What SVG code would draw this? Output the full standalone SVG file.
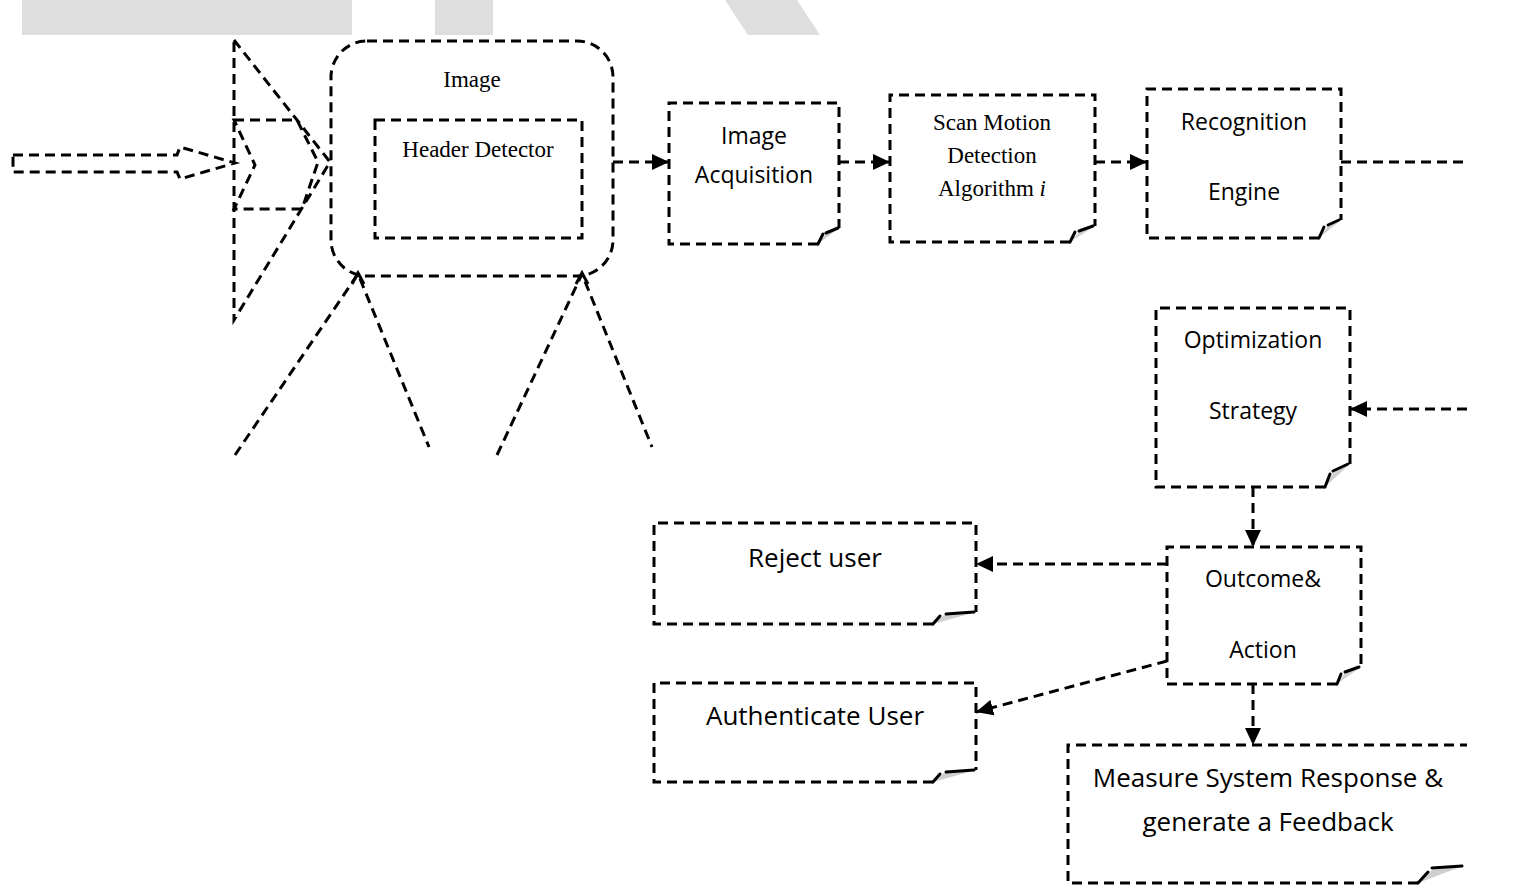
<svg xmlns="http://www.w3.org/2000/svg" width="1517" height="896" viewBox="0 0 1517 896">
<defs>
<style>
.d{fill:none;stroke:#000;stroke-width:3;stroke-dasharray:10 6}
.s{fill:none;stroke:#000;stroke-width:3}
.g{fill:#dedede;stroke:none}
.fold{fill:#cfcfcf;stroke:none}
.fs{fill:none;stroke:#000;stroke-width:3;stroke-linecap:round}
.ser{font-family:"Liberation Serif","Times New Roman",serif;font-size:23px;fill:#000;text-anchor:middle}
.san{font-family:"Open Sans","Noto Sans","Liberation Sans",sans-serif;font-size:23px;fill:#000;text-anchor:middle}
.big{font-size:26px}
</style>
<marker id="arr" viewBox="0 0 17 16" refX="17" refY="8" markerWidth="17" markerHeight="16" markerUnits="userSpaceOnUse" orient="auto"><path d="M0,0 L17,8 L0,16 z" fill="#000"/></marker>
</defs>
<rect width="1517" height="896" fill="#fff"/>
<!-- gray header shapes -->
<rect class="g" x="22" y="0" width="330" height="35"/>
<rect class="g" x="435" y="0" width="58" height="35"/>
<polygon class="g" points="725,0 797,0 820,35 748,35"/>

<g id="input-shapes">
<path class="d" d="M13,155 H177 L180,147 L235,163 L180,179 L177,172 H13 Z"/>
<path class="d" d="M234,40 L330,162 L234,320 Z"/>
<path class="d" d="M234,120 H297 L318,162 L302,209 H234 L255,165 Z"/>
</g>

<g id="image-header-detector">
<rect class="d" x="331" y="41" width="282" height="235" rx="36" ry="36"/>
<text class="ser" x="472" y="87">Image</text>
<rect class="d" x="375" y="120" width="207" height="118"/>
<text class="ser" x="478" y="157">Header Detector</text>
</g>

<g id="legs">
<path class="d" d="M235,455 L358,274 L429,447"/>
<path class="d" d="M497,455 L582,274 L652,447"/>
<polyline class="s" points="352,284 358,273 364,284"/>
<polyline class="s" points="576,284 582,273 588,284"/>
</g>

<g id="image-acquisition">
<path class="d" d="M818,244 H669 V103 H839 V228"/>
<polygon class="fold" points="818,244 826,234 839,228"/>
<path class="fs" d="M818,244 L823,234 M826,233 L838,228"/>
<text class="san" x="754" y="144">Image</text>
<text class="san" x="754" y="183">Acquisition</text>
</g>

<g id="scan-motion">
<path class="d" d="M1070,242 H890 V95 H1095 V226"/>
<polygon class="fold" points="1070,242 1079,232 1095,226"/>
<path class="fs" d="M1070,242 L1075,232 M1079,231 L1093,226"/>
<text class="ser" x="992" y="130">Scan Motion</text>
<text class="ser" x="992" y="163">Detection</text>
<text class="ser" x="992" y="196">Algorithm <tspan font-style="italic">i</tspan></text>
</g>

<g id="recognition-engine">
<path class="d" d="M1319,238 H1147 V89 H1341 V220"/>
<polygon class="fold" points="1319,238 1328,226 1341,220"/>
<path class="fs" d="M1319,238 L1324,227 M1328,225 L1339,220"/>
<text class="san" x="1244" y="130">Recognition</text>
<text class="san" x="1244" y="200">Engine</text>
</g>

<g id="optimization-strategy">
<path class="d" d="M1325,487 H1156 V308 H1350 V464"/>
<polygon class="fold" points="1325,487 1333,473 1350,464"/>
<path class="fs" d="M1325,487 L1330,474 M1333,471 L1348,464"/>
<text class="san" x="1253" y="348">Optimization</text>
<text class="san" x="1253" y="419">Strategy</text>
</g>

<g id="outcome-action">
<path class="d" d="M1337,684 H1167 V547 H1361 V667"/>
<polygon class="fold" points="1337,684 1345,673 1361,667"/>
<path class="fs" d="M1337,684 L1341,674 M1345,672 L1359,667"/>
<text class="san" x="1263" y="587">Outcome&amp;</text>
<text class="san" x="1263" y="658">Action</text>
</g>

<g id="reject-user">
<path class="d" d="M933,624 H654 V523 H976 V612"/>
<polygon class="fold" points="933,624 944,615 976,612"/>
<path class="fs" d="M933,624 L940,616 M946,614 L974,612"/>
<text class="san big" x="815" y="567">Reject user</text>
</g>

<g id="authenticate-user">
<path class="d" d="M933,782 H654 V683 H976 V770"/>
<polygon class="fold" points="933,782 944,773 976,770"/>
<path class="fs" d="M933,782 L940,774 M946,772 L974,770"/>
<text class="san big" x="815" y="725">Authenticate User</text>
</g>

<g id="measure-feedback">
<path class="d" d="M1418,883 H1068 V745 H1467"/>
<polygon class="fold" points="1418,883 1432,870 1463,866"/>
<path class="fs" d="M1418,883 L1428,872 M1432,868 L1462,866"/>
<text class="san big" x="1268" y="787">Measure System Response &amp;</text>
<text class="san big" x="1268" y="831">generate a Feedback</text>
</g>

<g id="connectors">
<path class="d" d="M613,162 H669" marker-end="url(#arr)"/>
<path class="d" d="M839,162 H890" marker-end="url(#arr)"/>
<path class="d" d="M1095,162 H1147" marker-end="url(#arr)"/>
<path class="d" d="M1341,162 H1467"/>
<path class="d" d="M1467,409 H1350" marker-end="url(#arr)"/>
<path class="d" d="M1253,487 V547" marker-end="url(#arr)"/>
<path class="d" d="M1167,564 H976" marker-end="url(#arr)"/>
<path class="d" d="M1167,661 L976,712" marker-end="url(#arr)"/>
<path class="d" d="M1253,684 V745" marker-end="url(#arr)"/>
</g>
</svg>
